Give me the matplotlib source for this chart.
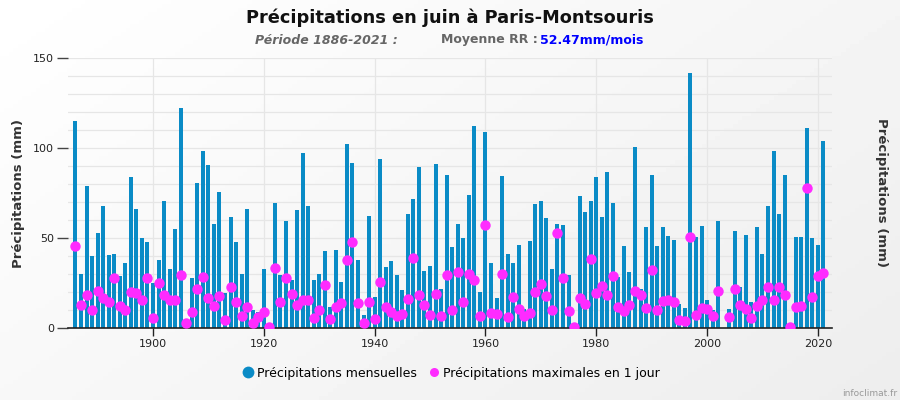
import numpy as np
import matplotlib
matplotlib.use("Agg")
import matplotlib.pyplot as plt
from matplotlib.lines import Line2D

years = list(range(1886, 2022))
monthly = [115, 30, 79, 40, 53, 68, 40.6, 41, 29, 36,
           84, 66, 50, 48, 25, 38, 70.6, 33, 55, 122,
           4, 28, 80.5, 98.3, 90.6, 57.8, 75.6, 19.4, 61.7, 47.8,
           30, 66, 10, 8.9, 32.8, 1, 69.4, 29.4, 59.4, 26.7,
           65.6, 97.2, 67.8, 26.7, 30, 42.8, 11.7, 43.3, 25.6, 102.2,
           91.7, 37.8, 7.2, 62.2, 17.2, 93.9, 33.9, 37.2, 29.4, 21.1,
           63.3, 71.7, 89.4, 31.7, 34.4, 91.1, 21.7, 85, 45, 57.8,
           50, 73.9, 112.2, 20, 108.9, 36.1, 16.7, 84.4, 41.1, 36.1,
           46.1, 10.6, 48.3, 68.9, 70.6, 61.1, 32.8, 57.8, 57.2, 29.4,
           1, 73.3, 64.4, 70.6, 83.9, 61.7, 86.7, 69.4, 28.3, 45.6,
           31.1, 100.6, 21.7, 56.1, 85, 45.6, 56.1, 51.1, 48.9, 13.3,
           11.1, 141.7, 50.6, 56.7, 15.6, 10, 59.4, np.nan, 10.6, 53.9,
           22.8, 51.7, 14.4, 56.1, 41.1, 67.8, 98.3, 63.3, 85, 1,
           50.6, 50.6, 111.1, 50, 46.1, 103.9]
maxday = [45.7, 13, 18.5, 10, 20.6, 16.7, 14.4, 28, 12.4, 10.2,
          20, 19.4, 15.7, 28, 5.7, 24.8, 18.5, 15.7, 15.7, 29.6,
          3, 9, 21.8, 28.5, 16.9, 12.4, 18, 4.6, 23, 14.6,
          6.9, 11.9, 3, 6.3, 9, 0.7, 33.5, 14.6, 28, 19,
          13, 15.7, 15.7, 5.7, 10.2, 24, 5.2, 11.9, 14, 38,
          48, 14, 3, 14.6, 5.2, 25.7, 11.9, 9, 6.9, 8,
          16.3, 39, 18.5, 13, 7.4, 19, 6.9, 29.6, 10.2, 31.3,
          14.6, 30.2, 26.9, 6.9, 57.4, 8.5, 8, 30.2, 6.3, 17.4,
          10.7, 6.9, 8.5, 20.2, 24.6, 18, 10.2, 53, 28, 9.6,
          0.7, 16.9, 13.5, 38.5, 19.6, 23.5, 18.5, 29, 11.9, 9.6,
          13, 20.7, 18.5, 11.3, 32.4, 10.2, 15.2, 15.7, 14.6, 4.6,
          4.1, 50.7, 7.4, 11.3, 10.7, 6.9, 20.7, np.nan, 6.3, 21.9,
          13, 10.7, 5.7, 12.4, 15.7, 23, 15.7, 23, 18.5, 0.7,
          11.9, 12.4, 78, 17.4, 29.1, 30.7]
xticks = [1900, 1920, 1940, 1960, 1980, 2000, 2020]
yticks = [0, 50, 100, 150]

title = "Précipitations en juin à Paris-Montsouris"
sub1 = "Période 1886-2021 :"
sub2 = "Moyenne RR : "
sub3 = "52.47mm/mois"
ylabel = "Précipitations (mm)"
leg1 = "Précipitations mensuelles"
leg2 = "Précipitations maximales en 1 jour"

BLUE = "#0a8bc6"
MAG = "#ff2bff"

fig = plt.figure(figsize=(9, 4), dpi=100)

# background gradient
bg = fig.add_axes([0, 0, 1, 1], zorder=-10)
gx, gy = np.meshgrid(np.linspace(0, 1, 200), np.linspace(0, 1, 100))
grad = 1.0 - 0.07 * (0.6 * gx + 0.4 * gy)
bg.imshow(grad, cmap="gray", vmin=0, vmax=1, aspect="auto", extent=[0, 1, 0, 1], origin="upper")
bg.axis("off")

ax = fig.add_axes([68 / 900, 72 / 400, 764 / 900, 270 / 400])
ax.set_facecolor("none")
ax.set_xlim(1884.66, 2022.55)
ax.set_ylim(0, 150)

ax.bar(years, monthly, width=0.72, color=BLUE, zorder=2)
ax.plot(years, maxday, linestyle="none", marker="o", markersize=7.5,
        color=MAG, markeredgewidth=0, zorder=3)

ax.set_yticks(yticks)
ax.set_yticks(np.arange(0, 151, 10), minor=True)
ax.set_xticks(xticks)
ax.grid(axis="y", which="both", color="#e6e6e6", linewidth=0.9, zorder=0)
ax.grid(axis="x", which="major", color="#e6e6e6", linewidth=0.9, zorder=0)

for s in ["top", "right", "left"]:
    ax.spines[s].set_visible(False)
ax.spines["bottom"].set_color("#222222")
ax.spines["bottom"].set_linewidth(1.2)

ax.tick_params(axis="x", direction="out", length=6, width=1, color="#222222",
               labelsize=8, labelcolor="#222222", pad=2)
ax.tick_params(axis="y", which="major", direction="out", length=8, width=1,
               color="#444444", labelsize=8, labelcolor="#222222", pad=2,
               right=True, labelright=True)
ax.tick_params(axis="y", which="minor", length=0, right=False)

ax.set_ylabel(ylabel, fontsize=9.5, fontweight="bold", color="#333333", labelpad=6)
ax2 = ax.twinx()
ax2.set_ylim(0, 150)
ax2.set_yticks([])
for s in ax2.spines.values():
    s.set_visible(False)
ax2.set_ylabel(ylabel, fontsize=9.5, fontweight="bold", color="#333333",
               rotation=270, labelpad=40)

fig.text(0.5, 1 - 18 / 400, title, ha="center", va="center",
         fontsize=12.8, fontweight="bold", color="#111111")
fig.text(255 / 900, 1 - 40 / 400, sub1, ha="left", va="center",
         fontsize=9, fontweight="bold", fontstyle="italic", color="#666666")
fig.text(441 / 900, 1 - 40 / 400, sub2, ha="left", va="center",
         fontsize=9, fontweight="bold", color="#666666")
fig.text(540 / 900, 1 - 40 / 400, sub3, ha="left", va="center",
         fontsize=9, fontweight="bold", color="#0000ff")

handles = [Line2D([], [], linestyle="none", marker="o", markersize=8.5,
                  color=BLUE, markeredgewidth=0),
           Line2D([], [], linestyle="none", marker="o", markersize=6.5,
                  color=MAG, markeredgewidth=0)]
fig.legend(handles, [leg1, leg2], loc="center", bbox_to_anchor=(0.5, 1 - 373 / 400),
           ncol=2, frameon=False, fontsize=9, handletextpad=0.1,
           columnspacing=0.8, handlelength=1.2)

fig.text(897 / 900, 1 - 393 / 400, "infoclimat.fr", ha="right", va="center",
         fontsize=6.5, color="#999999")

fig.savefig("out.png", dpi=100)
